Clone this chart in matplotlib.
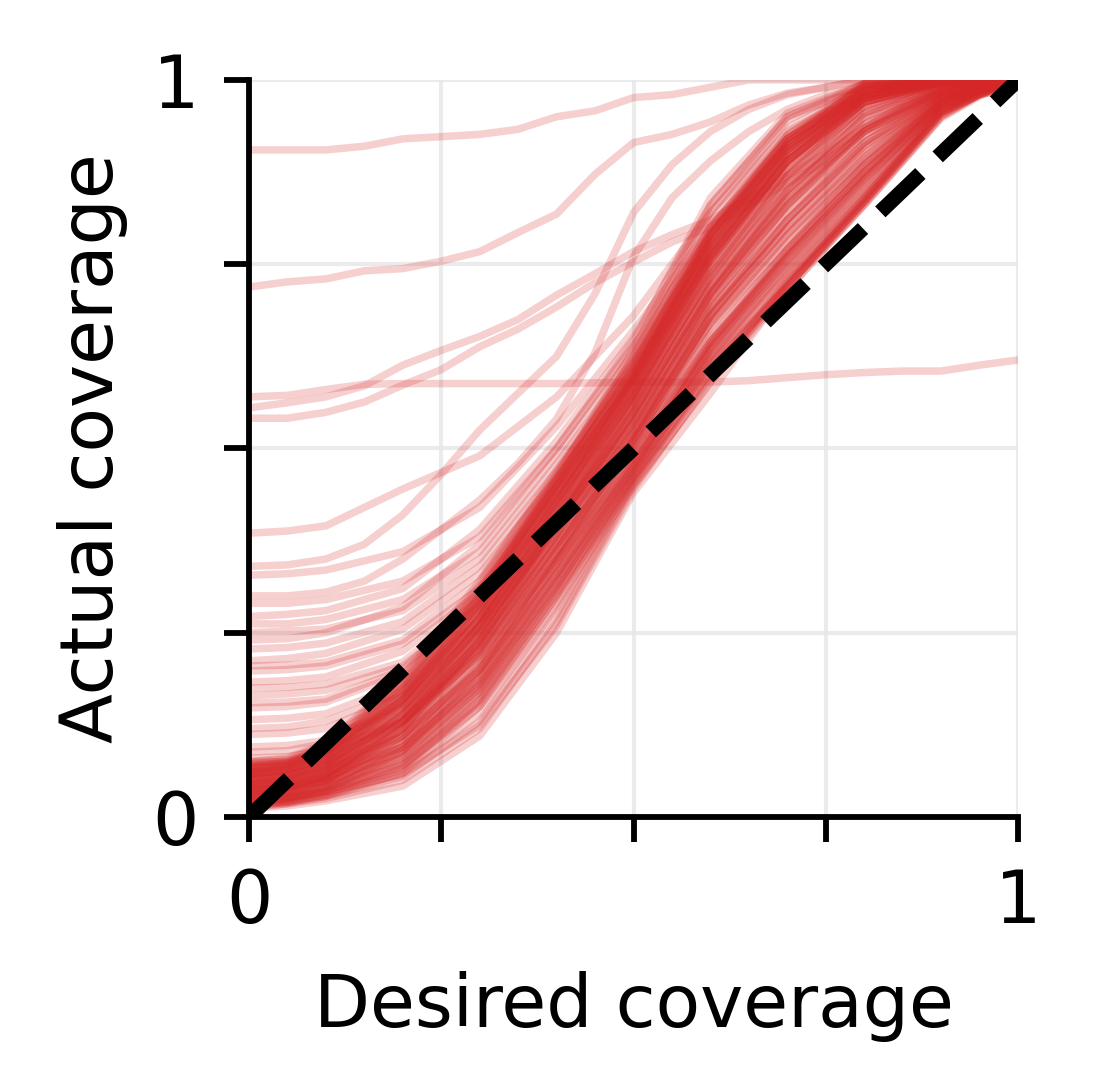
import matplotlib
matplotlib.use("Agg")
import matplotlib.pyplot as plt

# desired coverage grid used by most curves
x_grid = [0, 0.05, 0.1, 0.2, 0.3, 0.4, 0.5, 0.6, 0.7, 0.8, 0.9, 0.95, 1.0]
# finer grid for the few isolated curves
x_fine = [0, 0.05, 0.1, 0.15, 0.2, 0.25, 0.3, 0.35, 0.4, 0.45, 0.5,
          0.55, 0.6, 0.65, 0.7, 0.75, 0.8, 0.85, 0.9, 0.95, 1.0]

# dense band of curves
core_curves = [
    [0.015, 0.02, 0.032, 0.068, 0.16, 0.305, 0.465, 0.615, 0.72, 0.835, 0.955, 0.98, 0.99],
    [0.02, 0.024, 0.035, 0.075, 0.17, 0.315, 0.47, 0.62, 0.73, 0.84, 0.958, 0.982, 1.0],
    [0.018, 0.025, 0.038, 0.082, 0.18, 0.33, 0.48, 0.635, 0.745, 0.85, 0.962, 0.985, 1.0],
    [0.025, 0.03, 0.042, 0.088, 0.19, 0.34, 0.49, 0.645, 0.76, 0.865, 0.965, 0.985, 1.0],
    [0.03, 0.034, 0.046, 0.095, 0.195, 0.345, 0.5, 0.655, 0.77, 0.875, 0.968, 0.986, 1.0],
    [0.028, 0.036, 0.05, 0.1, 0.2, 0.35, 0.505, 0.665, 0.78, 0.885, 0.97, 0.988, 1.0],
    [0.034, 0.04, 0.052, 0.105, 0.21, 0.355, 0.51, 0.67, 0.79, 0.89, 0.972, 0.99, 1.0],
    [0.038, 0.042, 0.056, 0.11, 0.215, 0.36, 0.515, 0.68, 0.8, 0.9, 0.975, 0.99, 1.0],
    [0.04, 0.045, 0.06, 0.118, 0.225, 0.37, 0.52, 0.69, 0.81, 0.91, 0.976, 0.99, 1.0],
    [0.044, 0.048, 0.062, 0.122, 0.23, 0.375, 0.525, 0.695, 0.82, 0.915, 0.978, 0.992, 1.0],
    [0.046, 0.05, 0.066, 0.128, 0.238, 0.385, 0.535, 0.705, 0.83, 0.925, 0.98, 0.992, 1.0],
    [0.05, 0.054, 0.07, 0.135, 0.245, 0.39, 0.54, 0.71, 0.84, 0.93, 0.982, 0.993, 1.0],
    [0.052, 0.056, 0.072, 0.14, 0.252, 0.4, 0.55, 0.72, 0.85, 0.94, 0.984, 0.994, 1.0],
    [0.055, 0.06, 0.076, 0.148, 0.26, 0.41, 0.56, 0.735, 0.86, 0.948, 0.986, 0.995, 1.0],
    [0.058, 0.062, 0.08, 0.155, 0.27, 0.42, 0.57, 0.745, 0.87, 0.955, 0.988, 0.996, 1.0],
    [0.062, 0.066, 0.084, 0.16, 0.28, 0.43, 0.575, 0.75, 0.88, 0.962, 0.99, 0.997, 1.0],
    [0.065, 0.07, 0.088, 0.168, 0.29, 0.44, 0.585, 0.76, 0.89, 0.97, 0.992, 0.998, 1.0],
    [0.068, 0.072, 0.092, 0.175, 0.3, 0.45, 0.595, 0.775, 0.9, 0.978, 0.995, 1.0, 1.0],
    [0.072, 0.076, 0.096, 0.182, 0.31, 0.46, 0.605, 0.785, 0.91, 0.985, 0.998, 1.0, 1.0],
    [0.075, 0.08, 0.1, 0.19, 0.32, 0.47, 0.615, 0.795, 0.92, 0.992, 1.0, 1.0, 1.0],
    [0.016, 0.022, 0.036, 0.09, 0.2, 0.36, 0.52, 0.7, 0.83, 0.935, 0.99, 1.0, 1.0],
    [0.022, 0.028, 0.042, 0.1, 0.215, 0.375, 0.535, 0.71, 0.85, 0.95, 0.99, 1.0, 1.0],
    [0.026, 0.032, 0.048, 0.12, 0.24, 0.4, 0.555, 0.73, 0.87, 0.965, 0.995, 1.0, 1.0],
    [0.032, 0.038, 0.055, 0.13, 0.26, 0.42, 0.575, 0.755, 0.89, 0.975, 0.998, 1.0, 1.0],
    [0.07, 0.072, 0.085, 0.15, 0.255, 0.39, 0.52, 0.67, 0.78, 0.885, 0.97, 0.99, 1.0],
    [0.074, 0.075, 0.09, 0.16, 0.27, 0.405, 0.535, 0.685, 0.795, 0.895, 0.975, 0.99, 1.0],
    [0.066, 0.07, 0.082, 0.14, 0.235, 0.37, 0.5, 0.645, 0.76, 0.87, 0.965, 0.985, 1.0],
    [0.06, 0.064, 0.078, 0.13, 0.22, 0.35, 0.48, 0.63, 0.745, 0.855, 0.96, 0.982, 1.0],
    [0.045, 0.05, 0.062, 0.11, 0.2, 0.33, 0.475, 0.635, 0.765, 0.875, 0.97, 0.988, 1.0],
    [0.04, 0.044, 0.054, 0.095, 0.18, 0.315, 0.47, 0.625, 0.75, 0.865, 0.965, 0.986, 1.0],
    [0.035, 0.04, 0.052, 0.115, 0.235, 0.395, 0.55, 0.72, 0.84, 0.935, 0.985, 0.996, 1.0],
    [0.05, 0.055, 0.07, 0.145, 0.27, 0.43, 0.58, 0.755, 0.885, 0.97, 0.996, 1.0, 1.0],
    [0.056, 0.06, 0.074, 0.13, 0.23, 0.37, 0.515, 0.68, 0.81, 0.915, 0.98, 0.994, 1.0],
    [0.062, 0.068, 0.086, 0.165, 0.285, 0.43, 0.57, 0.73, 0.85, 0.94, 0.985, 0.996, 1.0],
    [0.02, 0.026, 0.04, 0.085, 0.175, 0.32, 0.475, 0.64, 0.77, 0.885, 0.975, 0.99, 1.0],
    [0.028, 0.032, 0.045, 0.092, 0.19, 0.345, 0.505, 0.68, 0.81, 0.915, 0.985, 0.996, 1.0],
    [0.036, 0.04, 0.058, 0.125, 0.245, 0.4, 0.55, 0.715, 0.835, 0.93, 0.985, 0.995, 1.0],
    [0.048, 0.052, 0.068, 0.138, 0.26, 0.415, 0.565, 0.735, 0.865, 0.96, 0.995, 1.0, 1.0],
    [0.058, 0.064, 0.082, 0.16, 0.29, 0.445, 0.595, 0.77, 0.905, 0.988, 1.0, 1.0, 1.0],
    [0.068, 0.074, 0.094, 0.18, 0.305, 0.455, 0.605, 0.785, 0.915, 0.994, 1.0, 1.0, 1.0],
    [0.03, 0.036, 0.05, 0.105, 0.205, 0.355, 0.51, 0.68, 0.8, 0.905, 0.975, 0.99, 1.0],
    [0.042, 0.046, 0.06, 0.12, 0.225, 0.375, 0.525, 0.69, 0.81, 0.91, 0.978, 0.99, 1.0],
    [0.052, 0.058, 0.072, 0.138, 0.25, 0.395, 0.545, 0.71, 0.83, 0.93, 0.982, 0.993, 1.0],
    [0.044, 0.05, 0.066, 0.13, 0.24, 0.385, 0.535, 0.7, 0.825, 0.925, 0.98, 0.993, 1.0],
    [0.06, 0.065, 0.082, 0.16, 0.285, 0.44, 0.59, 0.77, 0.9, 0.98, 1.0, 1.0, 1.0],
    [0.055, 0.06, 0.078, 0.155, 0.28, 0.435, 0.595, 0.78, 0.91, 0.985, 1.0, 1.0, 1.0],
    [0.07, 0.074, 0.092, 0.175, 0.3, 0.455, 0.61, 0.79, 0.915, 0.99, 1.0, 1.0, 1.0],
    [0.064, 0.07, 0.088, 0.17, 0.295, 0.45, 0.605, 0.795, 0.92, 0.992, 1.0, 1.0, 1.0],
    [0.05, 0.056, 0.072, 0.148, 0.27, 0.425, 0.58, 0.76, 0.89, 0.975, 0.998, 1.0, 1.0],
    [0.045, 0.05, 0.066, 0.14, 0.262, 0.415, 0.57, 0.75, 0.88, 0.97, 0.997, 1.0, 1.0],
    [0.04, 0.046, 0.06, 0.13, 0.25, 0.405, 0.56, 0.735, 0.87, 0.965, 0.996, 1.0, 1.0],
    [0.075, 0.078, 0.098, 0.185, 0.315, 0.465, 0.615, 0.8, 0.925, 0.995, 1.0, 1.0, 1.0],
    [0.035, 0.04, 0.056, 0.12, 0.24, 0.395, 0.55, 0.72, 0.855, 0.955, 0.994, 1.0, 1.0],
    [0.03, 0.035, 0.05, 0.11, 0.228, 0.385, 0.54, 0.71, 0.845, 0.95, 0.993, 1.0, 1.0],
    [0.066, 0.072, 0.09, 0.172, 0.298, 0.448, 0.6, 0.775, 0.905, 0.985, 1.0, 1.0, 1.0],
    [0.058, 0.063, 0.08, 0.158, 0.282, 0.438, 0.585, 0.765, 0.895, 0.978, 0.999, 1.0, 1.0],
    [0.012, 0.018, 0.028, 0.06, 0.15, 0.3, 0.46, 0.61, 0.72, 0.835, 0.955, 0.98, 0.99],
    [0.03, 0.033, 0.04, 0.07, 0.155, 0.3, 0.455, 0.605, 0.72, 0.84, 0.958, 0.982, 1.0],
    [0.02, 0.025, 0.034, 0.072, 0.165, 0.31, 0.465, 0.62, 0.735, 0.85, 0.96, 0.984, 1.0],
    [0.04, 0.042, 0.048, 0.08, 0.17, 0.32, 0.475, 0.625, 0.745, 0.86, 0.964, 0.986, 1.0],
    [0.05, 0.052, 0.06, 0.095, 0.185, 0.33, 0.485, 0.64, 0.76, 0.87, 0.968, 0.988, 1.0],
    [0.06, 0.062, 0.07, 0.11, 0.2, 0.345, 0.495, 0.65, 0.77, 0.88, 0.97, 0.99, 1.0],
    [0.08, 0.082, 0.09, 0.13, 0.22, 0.36, 0.51, 0.67, 0.79, 0.895, 0.975, 0.99, 1.0],
    [0.025, 0.03, 0.04, 0.08, 0.175, 0.325, 0.48, 0.635, 0.755, 0.865, 0.966, 0.986, 1.0],
    [0.035, 0.04, 0.05, 0.09, 0.185, 0.335, 0.49, 0.645, 0.765, 0.875, 0.97, 0.988, 1.0],
    [0.015, 0.02, 0.03, 0.065, 0.158, 0.305, 0.462, 0.615, 0.73, 0.845, 0.96, 0.982, 1.0],
]

# curves running under the band
fringe_curves = [
    [0.012, 0.015, 0.022, 0.042, 0.11, 0.25, 0.44, 0.575, 0.72, 0.83, 0.948, 0.978, 1.0],
    [0.014, 0.018, 0.025, 0.05, 0.12, 0.265, 0.45, 0.59, 0.725, 0.835, 0.952, 0.98, 1.0],
    [0.016, 0.02, 0.028, 0.055, 0.13, 0.275, 0.455, 0.6, 0.715, 0.83, 0.95, 0.98, 1.0],
    [0.018, 0.022, 0.03, 0.06, 0.14, 0.285, 0.46, 0.605, 0.72, 0.835, 0.955, 0.98, 1.0],
    [0.022, 0.026, 0.034, 0.058, 0.125, 0.26, 0.445, 0.595, 0.73, 0.84, 0.955, 0.98, 1.0],
    [0.025, 0.028, 0.036, 0.07, 0.15, 0.29, 0.45, 0.59, 0.715, 0.832, 0.95, 0.98, 1.0],
]

# curves that start high and join the band from above
fan_curves = [
    [0.385, 0.388, 0.395, 0.445, 0.49, 0.57, 0.68, 0.82, 0.93, 0.985, 1.0, 1.0, 1.0],
    [0.328, 0.33, 0.335, 0.36, 0.42, 0.53, 0.66, 0.8, 0.92, 0.98, 1.0, 1.0, 1.0],
    [0.29, 0.29, 0.295, 0.32, 0.38, 0.5, 0.64, 0.79, 0.91, 0.975, 0.998, 1.0, 1.0],
    [0.272, 0.275, 0.28, 0.31, 0.39, 0.51, 0.65, 0.83, 0.95, 0.99, 1.0, 1.0, 1.0],
    [0.262, 0.262, 0.268, 0.295, 0.36, 0.49, 0.63, 0.8, 0.92, 0.985, 1.0, 1.0, 1.0],
    [0.25, 0.252, 0.255, 0.28, 0.35, 0.48, 0.62, 0.78, 0.905, 0.98, 0.998, 1.0, 1.0],
    [0.24, 0.242, 0.25, 0.285, 0.37, 0.5, 0.645, 0.84, 0.955, 0.995, 1.0, 1.0, 1.0],
    [0.228, 0.23, 0.236, 0.265, 0.34, 0.47, 0.615, 0.79, 0.915, 0.98, 1.0, 1.0, 1.0],
    [0.212, 0.215, 0.222, 0.255, 0.33, 0.46, 0.6, 0.77, 0.9, 0.975, 0.998, 1.0, 1.0],
    [0.205, 0.206, 0.21, 0.24, 0.32, 0.465, 0.625, 0.81, 0.935, 0.99, 1.0, 1.0, 1.0],
    [0.198, 0.2, 0.205, 0.235, 0.31, 0.445, 0.595, 0.765, 0.89, 0.97, 0.997, 1.0, 1.0],
    [0.183, 0.185, 0.19, 0.225, 0.305, 0.45, 0.61, 0.79, 0.92, 0.985, 1.0, 1.0, 1.0],
    [0.175, 0.176, 0.18, 0.21, 0.295, 0.455, 0.625, 0.82, 0.945, 0.995, 1.0, 1.0, 1.0],
    [0.165, 0.167, 0.172, 0.205, 0.285, 0.43, 0.59, 0.76, 0.89, 0.97, 0.997, 1.0, 1.0],
    [0.155, 0.156, 0.16, 0.2, 0.3, 0.46, 0.635, 0.83, 0.95, 0.995, 1.0, 1.0, 1.0],
    [0.148, 0.15, 0.156, 0.195, 0.29, 0.44, 0.6, 0.78, 0.91, 0.98, 1.0, 1.0, 1.0],
    [0.132, 0.134, 0.14, 0.18, 0.275, 0.425, 0.59, 0.775, 0.905, 0.98, 0.998, 1.0, 1.0],
    [0.12, 0.122, 0.13, 0.17, 0.27, 0.42, 0.595, 0.79, 0.925, 0.99, 1.0, 1.0, 1.0],
    [0.112, 0.114, 0.12, 0.165, 0.265, 0.41, 0.575, 0.76, 0.895, 0.975, 0.998, 1.0, 1.0],
    [0.095, 0.097, 0.104, 0.155, 0.26, 0.405, 0.57, 0.755, 0.89, 0.975, 0.998, 1.0, 1.0],
    [0.088, 0.09, 0.1, 0.15, 0.255, 0.4, 0.56, 0.74, 0.88, 0.97, 0.997, 1.0, 1.0],
]

# isolated curves (on x_fine)
curve_top = [0.905, 0.905, 0.905, 0.91, 0.92, 0.923, 0.926, 0.933, 0.95, 0.958, 0.976,
             0.98, 0.99, 1.0, 1.0, 1.0, 1.0, 1.0, 1.0, 1.0, 1.0]
curve_second = [0.719, 0.726, 0.73, 0.741, 0.744, 0.754, 0.767, 0.793, 0.818, 0.872, 0.915,
                0.926, 0.943, 0.966, 0.982, 0.99, 1.0, 1.0, 1.0, 1.0, 1.0]
curve_flat = [0.57, 0.572, 0.58, 0.587, 0.588, 0.588, 0.588, 0.588, 0.588, 0.589, 0.59,
              0.59, 0.59, 0.592, 0.596, 0.6, 0.603, 0.605, 0.605, 0.613, 0.62]
curve_mid_a = [0.555, 0.562, 0.57, 0.585, 0.613, 0.633, 0.652, 0.675, 0.708, 0.737, 0.767,
               0.79, 0.81, 0.84, 0.87, 0.9, 0.935, 0.965, 0.99, 1.0, 1.0]
curve_mid_b = [0.541, 0.541, 0.549, 0.563, 0.586, 0.607, 0.638, 0.662, 0.692, 0.725, 0.753,
               0.78, 0.8, 0.83, 0.86, 0.89, 0.93, 0.96, 0.985, 1.0, 1.0]
curve_steep_a = [0.34, 0.342, 0.35, 0.37, 0.41, 0.465, 0.525, 0.575, 0.625, 0.71, 0.82,
                 0.885, 0.93, 0.96, 0.98, 0.99, 1.0, 1.0, 1.0, 1.0, 1.0]
curve_steep_b = [0.30, 0.30, 0.305, 0.32, 0.35, 0.39, 0.43, 0.48, 0.54, 0.63, 0.76,
                 0.84, 0.89, 0.93, 0.96, 0.98, 0.99, 1.0, 1.0, 1.0, 1.0]
single_curves = [curve_top, curve_second, curve_flat, curve_mid_a, curve_mid_b,
                 curve_steep_a, curve_steep_b]

red = "#d62728"
line_alpha = 0.22
line_width = 1.8
font_size = 17.5

fig = plt.figure(figsize=(3.65, 3.637), dpi=300)
ax = fig.add_axes([0.2274, 0.2511, 0.7023, 0.6756])

for ys in core_curves + fringe_curves + fan_curves:
    ax.plot(x_grid, ys, color=red, alpha=line_alpha, lw=line_width, zorder=2)
for ys in single_curves:
    ax.plot(x_fine, ys, color=red, alpha=line_alpha, lw=line_width, zorder=2)

ax.plot([0, 1], [0, 1], color="black", ls="--", lw=3.6, zorder=3)

ax.set_xlim(0, 1)
ax.set_ylim(0, 1)
ticks = [0, 0.25, 0.5, 0.75, 1]
ax.set_xticks(ticks)
ax.set_yticks(ticks)
ax.set_xticklabels(["0", "", "", "", "1"])
ax.set_yticklabels(["0", "", "", "", "1"])
ax.tick_params(labelsize=font_size, length=6, width=1.4, pad=6)
ax.grid(True, color="#e6e6e6", lw=1.0, alpha=0.8, zorder=0)
ax.set_axisbelow(True)

for side in ["top", "right"]:
    ax.spines[side].set_visible(False)
for side in ["left", "bottom"]:
    ax.spines[side].set_linewidth(1.4)

ax.set_xlabel("Desired coverage", fontsize=font_size, labelpad=8)
ax.set_ylabel("Actual coverage", fontsize=font_size, labelpad=6)

fig.savefig("out.png", dpi=300)
